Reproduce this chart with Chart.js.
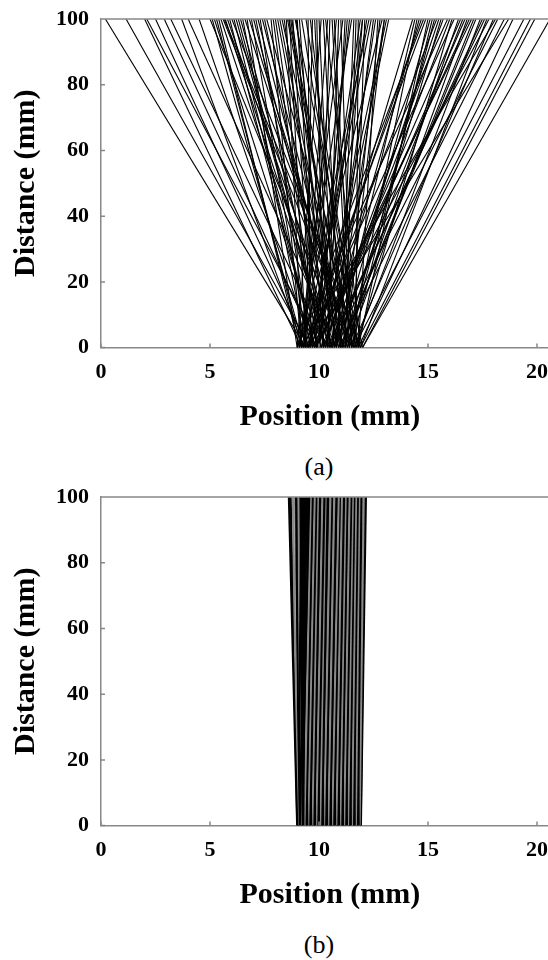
<!DOCTYPE html>
<html>
<head>
<meta charset="utf-8">
<script src="https://cdn.jsdelivr.net/npm/chart.js@4"></script>
<style>
  html, body { margin: 0; padding: 0; background: #fff; }
  body { width: 548px; height: 960px; overflow: hidden; position: relative; }
  .panel { position: absolute; left: 0; width: 560px; height: 440px; }
  .caption { position: absolute; left: 219px; width: 200px; text-align: center;
             font: 26px 'Liberation Serif', 'DejaVu Serif', 'Noto Serif', 'Times New Roman', serif;
             line-height: 30px; color: #000; }
</style>
</head>
<body>
<div class="panel" style="top:0"><canvas id="chartA" width="560" height="440"></canvas></div>
<div class="caption" style="top:452px">(a)</div>
<div class="panel" style="top:478px"><canvas id="chartB" width="560" height="440"></canvas></div>
<div class="caption" style="top:930px">(b)</div>
<script>
// tick values
const xTicks = [0, 5, 10, 15, 20];
const yTicks = [0, 20, 40, 60, 80, 100];

// (a) each ray: position at distance 0 and at distance 100 (mm)
const startA = [9.4, 9.6, 9.2, 10.1, 9.5, 9.9, 10.4, 9.3, 10.8, 9.7,
                11.2, 10.0, 9.1, 11.6, 10.6, 9.8, 11.9, 10.3, 9.4, 11.4,
                10.9, 9.6, 11.7, 10.2, 11.1, 9.2, 11.8, 10.7, 12.0, 9.9,
                11.3, 10.5, 9.0, 11.9, 10.0, 9.3, 11.5, 10.4, 9.1, 11.0,
                9.7, 10.8, 11.6, 9.5, 10.6, 9.2, 11.2, 10.1, 9.8, 11.4,
                10.3, 9.0, 11.8, 10.9, 9.6, 11.1, 10.2, 11.7, 9.4, 10.7,
                11.3, 9.9, 11.0, 10.5, 11.9, 9.8, 11.5, 10.9, 11.8, 11.6, 12.0,
                9.3, 10.5, 11.0, 9.8, 10.6, 11.5, 9.5, 10.1, 11.3, 9.2,
                10.9, 11.6, 10.4, 9.7, 11.0, 10.2, 11.8, 9.4, 10.7, 11.4,
                9.1, 10.0, 11.7, 9.6, 10.3, 11.1, 9.9, 10.8, 9.3, 11.5,
                10.5, 9.0, 11.2, 10.1, 9.7, 11.6, 10.6, 9.5, 11.9, 12.0,
                9.2, 11.9, 10.3, 9.0, 11.1, 10.6, 9.9, 11.4, 9.4, 10.8,
                11.7, 9.6, 10.2, 11.0, 9.3, 11.5, 10.4, 9.8, 11.2, 10.0,
                9.1, 11.8, 10.7, 9.5, 11.3, 10.2, 9.9, 11.0, 10.4, 9.2];
const endA = [0.2, 1.15, 2.0, 2.1, 2.5, 2.9, 3.2, 3.7, 4.0, 4.5,
              5.0, 5.2, 5.4, 5.6, 5.7, 5.9, 6.0, 6.2, 6.5, 6.8,
              7.0, 7.3, 7.6, 8.0, 8.2, 8.5, 8.6, 8.7, 8.9, 9.0,
              9.6, 9.8, 10.1, 10.3, 10.5, 10.8, 11.0, 11.2, 11.5, 11.6,
              11.9, 12.0, 12.1, 12.4, 12.5, 12.9, 13.0, 13.2, 14.3, 14.5,
              14.6, 14.8, 15.0, 15.1, 15.4, 15.6, 15.7, 16.1, 16.2, 16.6,
              16.8, 16.9, 17.2, 17.5, 17.7, 17.8, 18.0, 18.5, 18.9, 19.4, 20.6,
              5.1, 5.5, 5.8, 6.1, 6.4, 6.6, 6.9, 7.1, 7.4, 7.8,
              8.1, 8.3, 8.4, 8.8, 8.75, 9.1, 9.4, 9.7, 10.0, 10.6,
              11.1, 11.3, 11.8, 12.2, 12.6, 12.8, 13.1, 14.4, 14.9, 15.2,
              15.5, 15.9, 16.4, 16.7, 17.0, 17.4, 18.2, 18.7, 19.7, 19.9,
              5.3, 5.65, 6.3, 6.7, 7.2, 7.5, 7.9, 8.55, 8.65, 8.95,
              9.2, 9.5, 9.9, 10.2, 10.4, 10.7, 10.9, 11.4, 11.7, 12.0,
              12.3, 12.7, 13.0, 14.7, 15.3, 16.0, 16.5, 17.1, 17.6, 18.1];

// (b) collimated rays
const startB = [9.00, 9.02, 9.05, 9.08, 9.12, 9.15, 9.20, 9.24, 9.28, 9.33,
                9.37, 9.42, 9.46, 9.50, 9.55, 9.60, 9.64, 9.69, 9.73, 9.78,
                9.82, 9.87, 9.91, 9.96, 10.00, 10.05, 10.10, 10.14, 10.19, 10.23,
                10.28, 10.33, 10.37, 10.42, 10.46, 10.51, 10.55, 10.60, 10.65, 10.70,
                10.74, 10.79, 10.83, 10.88, 10.92, 10.97, 11.01, 11.06, 11.10, 11.15,
                11.19, 11.24, 11.28, 11.33, 11.37, 11.42, 11.46, 11.51, 11.55, 11.60,
                11.64, 11.69, 11.73, 11.78, 11.82, 11.86, 11.90, 11.92,
                9.03, 9.10, 9.18, 9.22, 9.31, 9.35, 9.44, 9.48, 9.57, 9.62,
                9.71, 9.75, 9.84, 9.89, 9.98, 10.02, 10.12, 10.16, 10.25, 10.30,
                10.39, 10.44, 10.53, 10.58, 10.67, 10.72, 10.81, 10.85, 10.94, 10.99,
                11.08, 11.12, 11.21, 11.26, 11.35, 11.39, 11.48, 11.53, 11.62, 11.66,
                11.75, 11.80, 11.88, 9.01, 11.91, 9.40, 10.60, 11.10, 10.20, 9.90];
const endB = [8.62, 8.80, 9.20, 8.95, 9.40, 9.05, 9.55, 9.10, 9.35, 9.62,
              9.18, 9.70, 9.30, 9.80, 9.48, 9.88, 9.45, 9.95, 9.60, 10.05,
              9.72, 10.15, 9.85, 10.25, 9.78, 10.30, 10.00, 10.40, 10.08, 10.52,
              10.20, 10.58, 10.15, 10.70, 10.35, 10.80, 10.45, 10.90, 10.50, 10.95,
              10.62, 11.05, 10.70, 11.15, 10.78, 11.22, 10.90, 11.30, 11.00, 11.40,
              11.08, 11.48, 11.15, 11.55, 11.25, 11.62, 11.35, 11.70, 11.42, 11.78,
              11.50, 11.85, 11.60, 11.95, 11.68, 12.05, 11.80, 12.15,
              9.30, 8.90, 9.45, 9.00, 9.58, 9.15, 9.66, 9.25, 9.85, 9.40,
              9.98, 9.52, 10.10, 9.66, 10.22, 9.82, 10.36, 9.95, 10.48, 10.05,
              10.62, 10.25, 10.76, 10.38, 10.88, 10.55, 11.02, 10.66, 11.18, 10.80,
              11.28, 10.95, 11.42, 11.05, 11.58, 11.20, 11.66, 11.32, 11.82, 11.45,
              11.92, 11.62, 12.08, 8.70, 12.10, 9.92, 10.12, 11.62, 9.70, 10.45];

const FONT = "'Liberation Serif', 'DejaVu Serif', 'Noto Serif', 'Times New Roman', serif";
Chart.defaults.font.family = FONT;
Chart.defaults.color = '#000';

const AXIS = '#888';

// box top/right edge and inward tick marks
const frameTicks = {
  id: 'frameTicks',
  afterDraw(chart) {
    const { ctx, chartArea: a, scales: { x, y } } = chart;
    ctx.save();
    ctx.strokeStyle = AXIS;
    ctx.lineWidth = 1.5;
    ctx.beginPath();
    ctx.moveTo(a.left, a.top);
    ctx.lineTo(a.right, a.top);
    ctx.lineTo(a.right, a.bottom);
    x.ticks.forEach(t => {
      const px = x.getPixelForValue(t.value);
      ctx.moveTo(px, a.bottom);
      ctx.lineTo(px, a.bottom - 4);
    });
    y.ticks.forEach(t => {
      const py = y.getPixelForValue(t.value);
      ctx.moveTo(a.left, py);
      ctx.lineTo(a.left + 4, py);
    });
    ctx.stroke();
    ctx.restore();
  }
};

const makeChart = (id, starts, ends, grey, width) => {
  const datasets = starts.map((s, i) => ({
    data: [{ x: s, y: 0 }, { x: ends[i], y: 100 }],
    showLine: true,
    borderColor: grey && i % 4 === 1 ? '#8a8a8a' : '#000',
    borderWidth: width,
    pointRadius: 0
  }));
  return new Chart(document.getElementById(id), {
    type: 'scatter',
    data: { datasets },
    plugins: [frameTicks],
    options: {
      responsive: false,
      animation: false,
      events: [],
      layout: { padding: { top: 19, left: 0, right: 0, bottom: 1 } },
      plugins: { legend: { display: false }, tooltip: { enabled: false } },
      scales: {
        x: {
          type: 'linear', min: 0, max: 21,
          afterBuildTicks: s => { s.ticks = xTicks.map(v => ({ value: v })); },
          grid: { display: false, drawTicks: false },
          border: { color: AXIS, width: 1.5 },
          ticks: { font: { size: 22, weight: 'bold' }, padding: 12, maxRotation: 0 },
          title: { display: true, text: 'Position (mm)', font: { size: 30, weight: 'bold' },
                   padding: { top: 1, bottom: 4 } }
        },
        y: {
          type: 'linear', min: 0, max: 100,
          afterBuildTicks: s => { s.ticks = yTicks.map(v => ({ value: v })); },
          afterFit: s => { s.paddingTop = 0; s.paddingBottom = 0; },
          grid: { display: false, drawTicks: false },
          border: { color: AXIS, width: 1.5 },
          ticks: { font: { size: 22, weight: 'bold' }, padding: 12 },
          title: { display: true, text: 'Distance (mm)', font: { size: 30, weight: 'bold' },
                   padding: { top: 8, bottom: 0 } }
        }
      }
    }
  });
};

makeChart('chartA', startA, endA, false, 1.1);
makeChart('chartB', startB, endB, true, 2.2);
</script>
</body>
</html>
